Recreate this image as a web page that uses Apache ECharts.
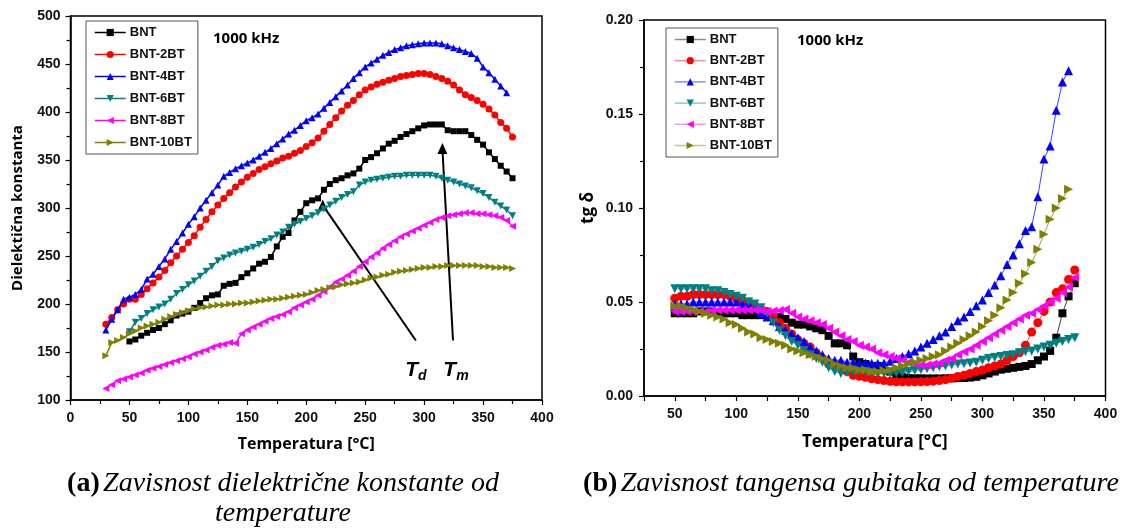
<!DOCTYPE html>
<html>
<head>
<meta charset="utf-8">
<script src="https://cdn.jsdelivr.net/npm/echarts@6/dist/echarts.min.js"></script>
<style>
  html, body { margin: 0; padding: 0; background: #ffffff; }
  #chart { width: 1124px; height: 529px; }
</style>
</head>
<body>
<div id="chart"></div>
<script>
// Measurement temperatures (°C)
const temps30 = [30,35,40,45,50,55,60,65,70,75,80,85,90,95,100,105,110,115,120,125,130,135,140,145,150,155,160,165,170,175,180,185,190,195,200,205,210,215,220,225,230,235,240,245,250,255,260,265,270,275,280,285,290,295,300,305,310,315,320,325,330,335,340,345,350,355,360,365,370,375];
const temps50 = [50,55,60,65,70,75,80,85,90,95,100,105,110,115,120,125,130,135,140,145,150,155,160,165,170,175,180,185,190,195,200,205,210,215,220,225,230,235,240,245,250,255,260,265,270,275,280,285,290,295,300,305,310,315,320,325,330,335,340,345,350,355,360,365,370,375];

const seriesNames = ['BNT', 'BNT-2BT', 'BNT-4BT', 'BNT-6BT', 'BNT-8BT', 'BNT-10BT'];
const seriesColors = ['#000000', '#ff0000', '#0000ff', '#008080', '#ff00ff', '#808000'];

// Dielectric constant at 1000 kHz
const epsBNT = [161,163,167,170,173,175,179,183,188,190,192,196,201,206,209,210,219,221,222,228,232,237,242,244,249,260,270,274,287,296,305,308,310,319,325,329,331,334,336,341,350,353,357,362,367,370,374,377,380,383,386,387,387,387,381,380,380,380,376,371,366,358,351,344,338,331];
const eps2BT = [179,186,194,200,205,205,210,216,222,228,235,243,250,257,264,271,280,288,296,303,310,316,322,327,332,336,340,343,346,349,352,354,357,360,364,368,373,380,387,394,401,407,412,418,423,426,429,431,433,435,437,438,439,440,440,439,437,435,432,428,423,418,415,412,408,403,397,389,383,374];
const eps4BT = [173,184,194,205,207,210,215,226,231,239,247,257,265,274,283,291,300,308,316,324,333,337,341,344,347,350,354,358,362,367,372,377,381,386,391,394,398,404,410,416,422,428,435,441,447,451,455,459,462,465,467,469,470,471,472,472,472,471,469,467,465,463,461,456,447,441,434,427,420];
const eps6BT = [171,181,185,190,194,197,200,205,211,215,220,224,229,234,239,245,248,251,253,255,257,259,262,265,268,272,275,280,283,286,289,292,295,299,303,307,311,314,317,324,327,329,330,331,332,333,333,334,334,334,334,334,333,331,329,327,325,323,321,318,315,311,306,302,298,292];
const eps8BT = [112,116,120,122,124,126,128,131,133,135,137,139,141,143,145,148,150,152,155,157,158,160,159,169,173,176,179,182,185,187,189,192,196,199,202,205,209,213,218,223,226,230,234,239,244,249,253,258,262,266,270,273,276,279,282,285,288,290,292,293,294,295,295,294,294,293,292,290,287,281];
const eps10BT = [146,160,162,165,169,172,175,177,179,181,184,187,189,191,193,195,196,197,198,199,199,200,200,201,201,202,203,204,205,205,206,207,208,209,210,212,214,215,217,218,220,221,222,223,225,227,228,230,231,233,234,235,236,237,238,238,239,239,240,240,240,240,240,240,239,239,238,238,238,237];

// Loss tangent (tg δ) at 1000 kHz
const tanBNT = [0.044,0.044,0.044,0.044,0.045,0.045,0.045,0.044,0.044,0.044,0.044,0.043,0.043,0.043,0.043,0.043,0.042,0.042,0.041,0.039,0.038,0.038,0.037,0.036,0.035,0.032,0.028,0.028,0.027,0.021,0.018,0.017,0.016,0.016,0.015,0.013,0.011,0.010,0.0095,0.0094,0.0094,0.0093,0.0093,0.0093,0.0094,0.0094,0.0095,0.0096,0.0098,0.0102,0.011,0.012,0.013,0.014,0.0145,0.015,0.0155,0.016,0.017,0.019,0.021,0.024,0.031,0.044,0.053,0.060];
const tan2BT = [0.052,0.053,0.053,0.054,0.054,0.054,0.054,0.054,0.054,0.053,0.052,0.051,0.050,0.048,0.046,0.045,0.042,0.039,0.036,0.033,0.030,0.028,0.026,0.023,0.020,0.017,0.016,0.015,0.013,0.011,0.0105,0.0100,0.0092,0.0087,0.0082,0.0078,0.0076,0.0075,0.0075,0.0075,0.0076,0.0077,0.0079,0.0082,0.0087,0.0095,0.0104,0.011,0.012,0.013,0.0138,0.015,0.016,0.017,0.019,0.021,0.023,0.027,0.034,0.039,0.045,0.050,0.055,0.057,0.062,0.067];
const tan4BT = [0.049,0.049,0.049,0.050,0.050,0.050,0.050,0.050,0.050,0.050,0.050,0.049,0.049,0.047,0.044,0.042,0.040,0.037,0.035,0.033,0.031,0.029,0.026,0.024,0.022,0.020,0.019,0.019,0.018,0.018,0.0178,0.0175,0.0174,0.0174,0.0176,0.0185,0.020,0.021,0.0225,0.024,0.026,0.028,0.030,0.032,0.034,0.037,0.040,0.042,0.045,0.048,0.051,0.055,0.059,0.064,0.070,0.075,0.081,0.088,0.090,0.106,0.126,0.133,0.152,0.167,0.173];
const tan6BT = [0.057,0.057,0.057,0.057,0.057,0.057,0.056,0.056,0.055,0.054,0.053,0.052,0.050,0.049,0.047,0.044,0.039,0.035,0.032,0.029,0.027,0.024,0.022,0.020,0.018,0.015,0.013,0.012,0.0125,0.013,0.013,0.013,0.0125,0.012,0.012,0.012,0.0122,0.0125,0.013,0.0135,0.014,0.0145,0.015,0.0155,0.016,0.0165,0.017,0.0172,0.0175,0.018,0.019,0.020,0.0205,0.021,0.0215,0.022,0.023,0.0235,0.024,0.025,0.026,0.027,0.028,0.029,0.030,0.031];
const tan8BT = [0.045,0.045,0.045,0.045,0.045,0.045,0.0455,0.0457,0.0458,0.0458,0.0458,0.0458,0.0458,0.0457,0.0455,0.045,0.0452,0.0455,0.046,0.044,0.042,0.041,0.040,0.039,0.038,0.036,0.034,0.032,0.030,0.029,0.027,0.026,0.025,0.023,0.022,0.021,0.020,0.019,0.018,0.017,0.0165,0.0165,0.017,0.0175,0.019,0.020,0.022,0.0235,0.025,0.027,0.029,0.031,0.033,0.035,0.037,0.039,0.041,0.043,0.044,0.046,0.048,0.050,0.052,0.055,0.058,0.063];
const tan10BT = [0.048,0.048,0.047,0.046,0.045,0.044,0.043,0.042,0.041,0.039,0.038,0.036,0.034,0.033,0.031,0.030,0.029,0.028,0.027,0.025,0.024,0.023,0.022,0.021,0.020,0.019,0.017,0.016,0.015,0.015,0.014,0.014,0.013,0.013,0.0135,0.014,0.015,0.016,0.017,0.018,0.019,0.020,0.021,0.022,0.024,0.026,0.028,0.030,0.032,0.034,0.037,0.040,0.043,0.047,0.051,0.055,0.060,0.065,0.071,0.078,0.086,0.094,0.100,0.105,0.110];

// Marker shape for each composition: symbol + rotation
const markers = [
  { symbol: 'rect', rotate: 0 },
  { symbol: 'circle', rotate: 0 },
  { symbol: 'triangle', rotate: 0 },
  { symbol: 'triangle', rotate: 180 },
  { symbol: 'triangle', rotate: 90 },
  { symbol: 'triangle', rotate: -90 }
];

function pairs(temps, values) {
  return values.map((v, i) => [temps[i], v]);
}

const epsData = [
  pairs(temps50, epsBNT), pairs(temps30, eps2BT), pairs(temps30, eps4BT),
  pairs(temps50, eps6BT), pairs(temps30, eps8BT), pairs(temps30, eps10BT)
];
const tanData = [
  pairs(temps50, tanBNT), pairs(temps50, tan2BT), pairs(temps50, tan4BT),
  pairs(temps50, tan6BT), pairs(temps50, tan8BT), pairs(temps50, tan10BT)
];

const labelFont = { fontFamily: 'Liberation Sans', fontWeight: 'bold', fontSize: 14, color: '#111' };
const nameFont = { fontFamily: 'Open Sans', fontWeight: 'bold', color: '#000' };

const series = [];
seriesNames.forEach((name, i) => {
  series.push({
    name: name,
    type: 'line',
    xAxisIndex: 0, yAxisIndex: 0,
    data: epsData[i],
    symbol: markers[i].symbol,
    symbolRotate: markers[i].rotate,
    symbolSize: i === 0 ? 6 : 7,
    color: seriesColors[i],
    lineStyle: { width: 1.5, color: seriesColors[i] },
    itemStyle: { color: seriesColors[i] },
    animation: false,
    z: 3 + i
  });
});
seriesNames.forEach((name, i) => {
  series.push({
    name: name,
    type: 'line',
    xAxisIndex: 1, yAxisIndex: 1,
    data: tanData[i],
    symbol: markers[i].symbol,
    symbolRotate: markers[i].rotate,
    symbolSize: i === 0 ? 8 : 9,
    color: seriesColors[i],
    lineStyle: { width: 1, color: seriesColors[i], opacity: 0.75 },
    itemStyle: { color: seriesColors[i] },
    animation: false,
    z: 3 + i
  });
});

// Arrows pointing to the depolarisation (Td) and maximum (Tm) temperatures
series.push({
  name: 'arrows',
  type: 'line',
  xAxisIndex: 0, yAxisIndex: 0,
  data: [],
  silent: true,
  animation: false,
  z: 20,
  markLine: {
    silent: true,
    animation: false,
    symbol: ['none', 'triangle'],
    symbolSize: [10, 11],
    symbolRotate: 0,
    label: { show: false },
    lineStyle: { color: '#000', width: 2, type: 'solid' },
    itemStyle: { color: '#000' },
    emphasis: { disabled: true },
    data: [
      [{ coord: [293, 162] }, { coord: [214, 303] }],
      [{ coord: [324.5, 162] }, { coord: [315.5, 362] }]
    ]
  }
});

function legendFor(left, top, gap, paleLines) {
  return {
    orient: 'vertical',
    left: left, top: top,
    itemWidth: 31, itemHeight: 9,
    itemGap: gap,
    padding: [5, 6, 5, 8],
    borderColor: '#555', borderWidth: 1,
    backgroundColor: '#fff',
    selectedMode: false,
    textStyle: { fontFamily: 'Liberation Sans', fontWeight: 'bold', fontSize: 13, color: '#111', padding: [0, 0, 0, -1] },
    data: seriesNames.map((n, i) => ({
      name: n,
      lineStyle: paleLines ? { color: seriesColors[i], opacity: 0.45, width: 1.5 } : { color: seriesColors[i], width: 1.5 }
    }))
  };
}

const option = {
  backgroundColor: '#ffffff',
  animation: false,
  legend: [legendFor(86, 21, 9, false), legendFor(666, 28, 8.2, true)],
  grid: [
    { left: 70.5, top: 16, width: 471.5, height: 384, show: true, borderColor: '#000', borderWidth: 1.5, backgroundColor: 'transparent' },
    { left: 644, top: 20, width: 461.5, height: 376, show: true, borderColor: '#000', borderWidth: 1.5, backgroundColor: 'transparent' }
  ],
  xAxis: [
    {
      gridIndex: 0, type: 'value', min: 0, max: 400, interval: 50,
      name: 'Temperatura [°C]', nameLocation: 'middle', nameGap: 36,
      nameTextStyle: Object.assign({ fontSize: 16 }, nameFont),
      axisLine: { lineStyle: { color: '#000', width: 1.5 } },
      axisTick: { inside: false, length: 5, lineStyle: { color: '#000', width: 1.2 } },
      minorTick: { show: true, splitNumber: 2, length: 4, lineStyle: { color: '#000', width: 1.2 } },
      axisLabel: Object.assign({ margin: 11 }, labelFont),
      splitLine: { show: false }
    },
    {
      gridIndex: 1, type: 'value', min: 25, max: 400, interval: 25,
      name: 'Temperatura [°C]', nameLocation: 'middle', nameGap: 38,
      nameTextStyle: Object.assign({ fontSize: 17 }, nameFont),
      axisLine: { lineStyle: { color: '#000', width: 1.5 } },
      axisTick: { inside: false, length: 5, lineStyle: { color: '#000', width: 1.2 } },
      axisLabel: Object.assign({ margin: 11, formatter: v => (v % 50 === 0 ? String(v) : ''), showMinLabel: true, showMaxLabel: true }, labelFont),
      splitLine: { show: false }
    }
  ],
  yAxis: [
    {
      gridIndex: 0, type: 'value', min: 100, max: 500, interval: 50,
      name: 'Dielektična konstanta', nameLocation: 'middle', nameGap: 45, nameRotate: 90,
      nameTextStyle: Object.assign({ fontSize: 15 }, nameFont),
      axisLine: { show: true, lineStyle: { color: '#000', width: 1.5 } },
      axisTick: { show: true, inside: false, length: 5, lineStyle: { color: '#000', width: 1.2 } },
      minorTick: { show: true, splitNumber: 2, length: 4, lineStyle: { color: '#000', width: 1.2 } },
      axisLabel: Object.assign({ margin: 10 }, labelFont),
      splitLine: { show: false }
    },
    {
      gridIndex: 1, type: 'value', min: 0, max: 0.2, interval: 0.05,
      name: 'tg δ', nameLocation: 'middle', nameGap: 47, nameRotate: 90,
      nameTextStyle: Object.assign({ fontSize: 17 }, nameFont),
      axisLine: { show: true, lineStyle: { color: '#000', width: 1.5 } },
      axisTick: { show: true, inside: false, length: 5, lineStyle: { color: '#000', width: 1.2 } },
      minorTick: { show: true, splitNumber: 2, length: 4, lineStyle: { color: '#000', width: 1.2 } },
      axisLabel: Object.assign({ margin: 11, formatter: v => v.toFixed(2) }, labelFont),
      splitLine: { show: false }
    }
  ],
  series: series
};

const chart = echarts.init(document.getElementById('chart'), null, { renderer: 'canvas' });
chart.setOption(option);

// Annotation labels and captions
const tdPos = chart.convertToPixel({ gridIndex: 0 }, [293, 131]);
const tmPos = chart.convertToPixel({ gridIndex: 0 }, [327, 131]);
const tempRich = {
  t: { fontFamily: 'Liberation Sans', fontStyle: 'italic', fontWeight: 'bold', fontSize: 21, color: '#000' },
  s: { fontFamily: 'Liberation Sans', fontStyle: 'italic', fontWeight: 'bold', fontSize: 14, color: '#000', padding: [12, 0, 0, 0] }
};
const capRich = {
  b: { fontFamily: 'Liberation Serif', fontWeight: 'bold', fontSize: 28, color: '#000' },
  i: { fontFamily: 'Liberation Serif', fontStyle: 'italic', fontSize: 28, color: '#000' }
};

chart.setOption({
  graphic: [
    { type: 'text', left: 213, top: 31, style: { text: '1000 kHz', font: 'bold 15px "Open Sans"', fill: '#000' } },
    { type: 'text', left: 797, top: 33, style: { text: '1000 kHz', font: 'bold 15px "Open Sans"', fill: '#000' } },
    { type: 'text', x: tdPos[0], y: tdPos[1], style: { text: '{t|T}{s|d}', rich: tempRich, align: 'center', verticalAlign: 'middle' } },
    { type: 'text', x: tmPos[0], y: tmPos[1], style: { text: '{t|T}{s|m}', rich: tempRich, align: 'center', verticalAlign: 'middle' } },
    { type: 'text', x: 283, y: 484, style: { text: '{b|(a)} {i|Zavisnost dielektrične konstante od}', rich: capRich, align: 'center', verticalAlign: 'middle' } },
    { type: 'text', x: 283, y: 514, style: { text: '{i|temperature}', rich: capRich, align: 'center', verticalAlign: 'middle' } },
    { type: 'text', x: 851, y: 484, style: { text: '{b|(b)} {i|Zavisnost tangensa gubitaka od temperature}', rich: capRich, align: 'center', verticalAlign: 'middle' } }
  ]
});
</script>
</body>
</html>
